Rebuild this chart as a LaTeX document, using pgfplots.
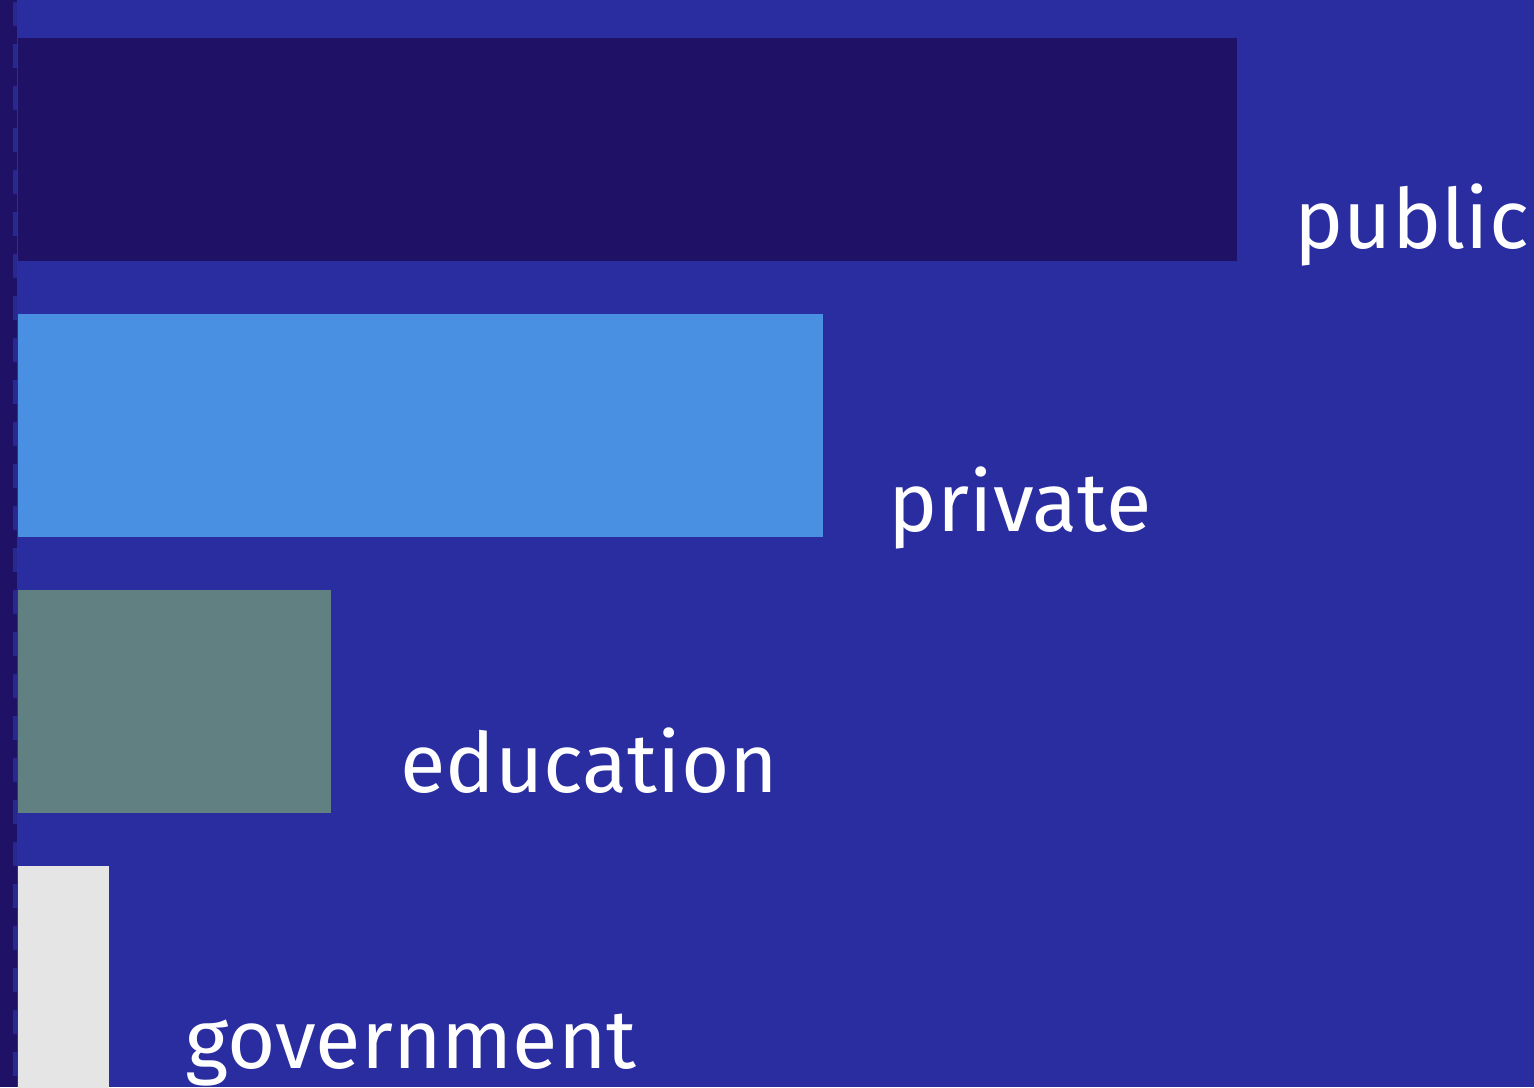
\documentclass[border=0pt]{standalone}
\usepackage{pgfplots}
\pgfplotsset{compat=1.18}
\usepackage{fontspec}
\setmainfont{Fira Sans}
\definecolor{bgblue}{HTML}{2A2DA0}
\definecolor{darkbar}{HTML}{1F1166}
\definecolor{skybar}{HTML}{4A90E2}
\definecolor{tealbar}{HTML}{608081}
\definecolor{greybar}{HTML}{E5E5E5}
\definecolor{dashblue}{HTML}{28288F}
% 1 px of the reference = 0.5pt; axis units are reference pixels
\begin{document}
\begin{tikzpicture}
\begin{axis}[
  xbar,
  scale only axis,
  width=767pt, height=543.5pt,
  xmin=-18, xmax=1516,
  ymin=-1087, ymax=0,
  bar width=223,
  bar shift=0pt,
  axis background/.style={fill=bgblue},
  axis line style={draw=none},
  xtick=\empty, ytick=\empty,
  nodes near coords,
  point meta=explicit symbolic,
  every node near coord/.append style={anchor=base west, inner sep=0pt,
    text=white, font=\fontsize{41.5pt}{48pt}\selectfont},
  clip=false,
]
\addplot[draw=none, fill=darkbar,
  every node near coord/.append style={xshift=28.5pt, yshift=-49.75pt}]
  coordinates {(1219,-149.5) [public]};
\addplot[draw=none, fill=skybar,
  every node near coord/.append style={xshift=32.5pt, yshift=-53pt}]
  coordinates {(805,-425.5) [private]};
\addplot[draw=none, fill=tealbar,
  every node near coord/.append style={xshift=34.5pt, yshift=-45.25pt}]
  coordinates {(313,-701.5) [education]};
\addplot[draw=none, fill=greybar,
  every node near coord/.append style={xshift=38pt, yshift=-45.25pt}]
  coordinates {(91,-977.5) [government]};
% dark strip at the left edge, with its dashed rule
\fill[darkbar] (axis cs:-18,-1087) rectangle (axis cs:-1,0);
\draw[dashblue, line width=2pt, dash pattern=on 12pt off 9pt, dash phase=-1pt]
  (axis cs:-3,0) -- (axis cs:-3,-1087);
\end{axis}
\pgfresetboundingbox
\path[use as bounding box] (current axis.south west) rectangle (current axis.north east);
\end{tikzpicture}
\end{document}
